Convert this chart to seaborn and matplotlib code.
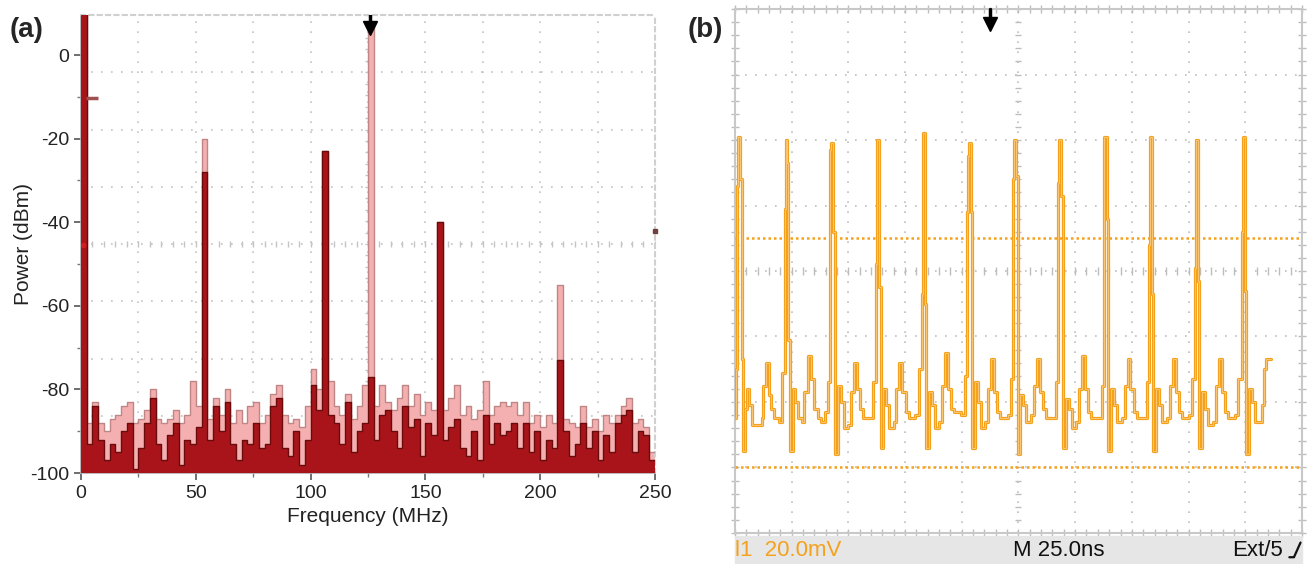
import numpy as np
import pandas as pd
import matplotlib
matplotlib.use("Agg")
import matplotlib.pyplot as plt
import seaborn as sns
from matplotlib.patches import Rectangle
from matplotlib.lines import Line2D

# ---------------- (a) spectrum, 2.5 MHz bins from 0 to 250 MHz
bin_mhz = 2.5
maxhold_dbm = [
    12, -88, -83, -88, -90, -87, -86, -84, -83, -88,
    -87, -85, -80, -87, -88, -87, -85, -88, -86, -78,
    -84, -20, -87, -82, -86, -80, -88, -85, -88, -84,
    -83, -88, -86, -81, -79, -86, -88, -87, -89, -84,
    -75, -80, -23, -78, -84, -86, -81, -87, -84, -79,
    7, -84, -79, -83, -85, -82, -79, -84, -81, -86,
    -83, -85, -40, -85, -82, -79, -86, -84, -87, -85,
    -78, -86, -84, -83, -84, -83, -86, -83, -88, -86,
    -89, -86, -88, -55, -87, -88, -89, -84, -89, -87,
    -90, -86, -88, -86, -84, -82, -88, -87, -89, -95,
]
live_dbm = [
    12, -93, -84, -92, -97, -93, -95, -90, -88, -99,
    -94, -88, -82, -93, -97, -91, -88, -98, -92, -93,
    -89, -28, -92, -84, -90, -83, -93, -97, -92, -93,
    -88, -94, -93, -84, -82, -94, -96, -90, -98, -92,
    -79, -85, -23, -86, -88, -93, -83, -95, -90, -88,
    -77, -92, -86, -85, -90, -94, -84, -89, -87, -96,
    -88, -91, -40, -92, -89, -87, -94, -96, -90, -97,
    -86, -93, -88, -91, -90, -88, -94, -88, -95, -90,
    -97, -92, -94, -73, -90, -96, -93, -88, -94, -90,
    -97, -91, -95, -88, -86, -85, -95, -90, -91, -97,
]
freq_ticks = [0, 50, 100, 150, 200, 250]
power_ticks = [0, -20, -40, -60, -80, -100]
marker_mhz = 126.0          # black marker arrow

# ---------------- (b) oscilloscope trace (step vertices)
trace_ns = [
    0.0,
    0.5, 0.9, 1.4, 2.3, 2.9, 3.6, 4.4, 5.2, 6.1, 7.7, 11.8, 12.4, 13.5, 14.8, 16.1, 17.4, 19.6, 20.8,
    22.0, 22.3, 23.0, 23.6, 24.1, 25.4, 26.6, 28.0, 29.4, 30.6, 32.3, 33.6, 34.9, 36.4, 37.9, 39.7, 41.0,
    42.1, 42.5, 43.4, 44.0, 45.3, 46.6, 48.0, 49.8, 51.0, 52.3, 53.6, 55.0, 56.4, 58.9, 60.9,
    62.3, 62.7, 63.5, 64.2, 65.4, 66.7, 68.0, 70.0, 71.2, 72.5, 73.8, 75.2, 76.6, 79.5, 81.3,
    82.3, 82.7, 83.6, 84.3, 85.6, 86.9, 88.2, 90.0, 91.3, 92.6, 93.9, 95.3, 96.6, 99.6, 101.3,
    102.3, 102.7, 103.2, 104.0, 104.6, 105.8, 107.1, 108.4, 110.4, 111.6, 112.9, 114.2, 115.6, 117.0, 120.4, 121.7,
    122.6, 123.0, 123.9, 124.6, 125.8, 127.1, 128.5, 130.6, 131.8, 133.1, 134.4, 135.7, 137.0, 140.0, 141.5,
    142.6, 142.9, 143.8, 144.5, 145.8, 147.1, 148.4, 150.4, 151.6, 152.9, 154.2, 155.6, 156.9, 160.2, 161.7,
    162.6, 162.9, 163.9, 164.6, 165.9, 167.2, 168.5, 170.6, 171.8, 173.1, 174.4, 175.8, 177.1, 180.3, 181.6,
    182.5, 182.8, 183.7, 184.5, 185.8, 187.1, 188.4, 190.5, 191.7, 193.0, 194.3, 195.6, 197.0, 200.4, 201.7,
    202.8, 203.1, 204.1, 204.8, 206.1, 207.4, 208.7, 210.8, 212.0, 213.3, 214.6, 215.9, 217.3, 220.5, 222.0,
    223.5, 223.8, 224.8, 225.5, 226.8, 228.1, 229.4, 231.2, 232.2, 233.4, 234.0, 236.5,
]
trace_mv = [
    -45,
    -30, 26, 41, 28, -27, -55, -42, -36, -41, -47, -45, -35, -28, -38, -42, -45, -46, -31,
    19, 40, 33, -21, -55, -36, -40, -45, -46, -37, -26, -33, -42, -45, -46, -43, -34,
    37, 39, 12, -56, -35, -40, -48, -47, -37, -28, -36, -42, -45, -45, -34,
    2, 40, -5, -54, -36, -41, -48, -46, -36, -28, -37, -43, -45, -44, -30,
    -7, 42, -10, -54, -37, -41, -48, -46, -35, -25, -36, -42, -43, -44, -32,
    18, 35, 39, 18, -54, -34, -40, -48, -46, -36, -27, -37, -43, -45, -44, -33,
    28, 40, 29, -56, -38, -41, -46, -44, -35, -27, -37, -42, -45, -45, -34,
    27, 40, 23, -54, -39, -42, -48, -46, -36, -26, -36, -43, -45, -45, -35,
    35, 41, 16, -55, -36, -41, -46, -45, -35, -27, -36, -43, -45, -45, -34,
    8, 41, -7, -55, -36, -41, -46, -45, -35, -27, -37, -43, -45, -44, -33,
    1, 40, -3, -54, -37, -42, -47, -46, -35, -27, -37, -43, -45, -44, -33,
    12, 41, -6, -56, -36, -40, -46, -46, -41, -30, -27, -27,
]
cursor_mv = [10, -60]
trigger_ns = 112.5

ORANGE = "#f5a11c"

sns.set_theme(style="white")
plt.rcParams['font.family'] = ['Liberation Sans', 'DejaVu Sans']
plt.rcParams['axes.unicode_minus'] = False

fig = plt.figure(figsize=(13.11, 5.64), dpi=100)
ax1 = fig.add_axes([0.0618, 0.1613, 0.4378, 0.8121])
ax2 = fig.add_axes([0.5606, 0.0550, 0.4325, 0.9290])

# ---------- panel (a)
ytop = 9.6
edges = np.arange(len(maxhold_dbm) + 1) * bin_mhz
spec = pd.DataFrame({
    "freq": edges,
    "maxhold": maxhold_dbm + [maxhold_dbm[-1]],
    "live": live_dbm + [live_dbm[-1]],
})
ax1.fill_between(spec["freq"], -100, spec["maxhold"], step="post", color="#f4b0b0", lw=0, zorder=2)
sns.lineplot(data=spec, x="freq", y="maxhold", drawstyle="steps-post", estimator=None,
             color="#c08585", lw=1.0, ax=ax1, zorder=3)
ax1.fill_between(spec["freq"], -100, spec["live"], step="post", color="#a8141a", lw=0, zorder=4)
sns.lineplot(data=spec, x="freq", y="live", drawstyle="steps-post", estimator=None,
             color="#6a0b0b", lw=1.0, ax=ax1, zorder=5)

ax1.set_xlim(0, 250)
ax1.set_ylim(-100, ytop)
for x in np.arange(25, 250, 25):
    ax1.axvline(x, color="#c4c4c4", lw=1.2, ls=(0, (1, 5)), zorder=1)
for y in np.linspace(-100, ytop, 9)[1:-1]:
    ax1.axhline(y, color="#c4c4c4", lw=1.2, ls=(0, (1, 5)), zorder=1)
# centre cross minor marks
ax1.plot(np.full(41, 125.0), np.linspace(-100, ytop, 41), ls="none", marker="_", ms=5,
         color="#c4c4c4", zorder=1)
ax1.plot(np.linspace(0, 250, 51), np.full(51, np.linspace(-100, ytop, 9)[4]), ls="none",
         marker="|", ms=5, color="#c4c4c4", zorder=1)

ax1.set_xticks(freq_ticks)
ax1.set_yticks(power_ticks)
ax1.set_yticks(np.arange(-90, 10, 20), minor=True)
ax1.set_xticks(np.arange(25, 250, 50), minor=True)
ax1.tick_params(axis="both", which="major", labelsize=14, length=5, width=1.2,
                color="#555555", labelcolor="#222222", direction="out", left=True, bottom=True)
ax1.tick_params(axis="both", which="minor", length=3, color="#777777", direction="out",
                left=True, bottom=True)
ax1.set_xlabel("Frequency (MHz)", fontsize=15, color="#222222", labelpad=4)
ax1.set_ylabel("Power (dBm)", fontsize=15, color="#222222", labelpad=-2)
for side in ["top", "right"]:
    ax1.spines[side].set_color("#d0d0d0")
    ax1.spines[side].set_linestyle((0, (2, 2)))
    ax1.spines[side].set_linewidth(1.5)
ax1.spines["left"].set_color("#b0b0b0")
ax1.spines["bottom"].set_color("#b0b0b0")
# marker arrow and level marks
ax1.plot([marker_mhz], [6.4], marker="v", ms=10, color="black", zorder=8, clip_on=False)
ax1.plot([marker_mhz, marker_mhz], [7.6, 9.5], color="black", lw=2.5, zorder=8)
ax1.plot([5.0], [-10.3], marker="_", ms=9, mew=2.5, color="#a05050", zorder=8)
ax1.plot([0.8], [-45.5], marker="o", ms=3, color="#d02020", zorder=8)
ax1.plot([250], [-42], marker="s", ms=3, color="#704040", zorder=8, clip_on=False)

# ---------- panel (b)
ax2.set_xlim(0, 250)
ax2.set_ylim(-80, 80)
for x in np.arange(25, 250, 25):
    ax2.axvline(x, color="#bdbdbd", lw=1.2, ls=(0, (1, 5)), zorder=1)
for y in np.arange(-60, 80, 20):
    ax2.axhline(y, color="#bdbdbd", lw=1.2, ls=(0, (1, 5)), zorder=1)
ax2.plot(np.full(41, 125.0), np.linspace(-80, 80, 41), ls="none", marker="_", ms=5,
         color="#bdbdbd", zorder=1)
ax2.plot(np.linspace(0, 250, 51), np.zeros(51), ls="none", marker="|", ms=6,
         color="#bdbdbd", zorder=1)
ax2.plot(np.linspace(0, 250, 51), np.full(51, 80.0), ls="none", marker="|", ms=6,
         color="#bdbdbd", zorder=1, clip_on=False)
ax2.plot(np.linspace(0, 250, 51), np.full(51, -80.0), ls="none", marker="|", ms=6,
         color="#bdbdbd", zorder=1, clip_on=False)
ax2.plot(np.full(41, 0.0), np.linspace(-80, 80, 41), ls="none", marker="_", ms=6,
         color="#bdbdbd", zorder=1, clip_on=False)
ax2.plot(np.full(41, 250.0), np.linspace(-80, 80, 41), ls="none", marker="_", ms=6,
         color="#bdbdbd", zorder=1, clip_on=False)
for c in cursor_mv:
    ax2.axhline(c, color=ORANGE, lw=1.8, ls=(0, (1, 1.2)), zorder=3)

sns.lineplot(x=trace_ns, y=trace_mv, drawstyle="steps-post", estimator=None, sort=False,
             color=ORANGE, lw=2.3, ax=ax2, zorder=5)
sns.lineplot(x=trace_ns, y=trace_mv, drawstyle="steps-post", estimator=None, sort=False,
             color="#fcd596", lw=0.5, ax=ax2, zorder=6)
ax2.set_xticks([])
ax2.set_yticks([])
ax2.set_xlabel("")
ax2.set_ylabel("")
for s in ax2.spines.values():
    s.set_color("#c8c8c8")
    s.set_linewidth(1.5)
ax2.plot([trigger_ns], [75.5], marker="v", ms=10, color="black", zorder=8, clip_on=False)
ax2.plot([trigger_ns, trigger_ns], [77, 80], color="black", lw=2.5, zorder=8, clip_on=False)

# scope status bar
fig.patches.append(Rectangle((0.5606, 0.0), 0.4325, 0.049, transform=fig.transFigure,
                             color="#e6e6e6", zorder=0))
fig.text(0.5606, 0.024, "l1  20.0mV", color=ORANGE, fontsize=16, va="center")
fig.text(0.7727, 0.024, "M 25.0ns", color="#111111", fontsize=16, va="center")
fig.text(0.9400, 0.024, "Ext/5", color="#111111", fontsize=16, va="center")
fig.add_artist(Line2D([0.9835, 0.9870, 0.9920], [0.012, 0.012, 0.038],
                      transform=fig.transFigure, color="#111111", lw=1.6))

fig.text(0.0076, 0.947, "(a)", fontsize=20, fontweight="bold", va="center")
fig.text(0.5245, 0.947, "(b)", fontsize=20, fontweight="bold", va="center")

fig.savefig("out.png", dpi=100, facecolor="white")
